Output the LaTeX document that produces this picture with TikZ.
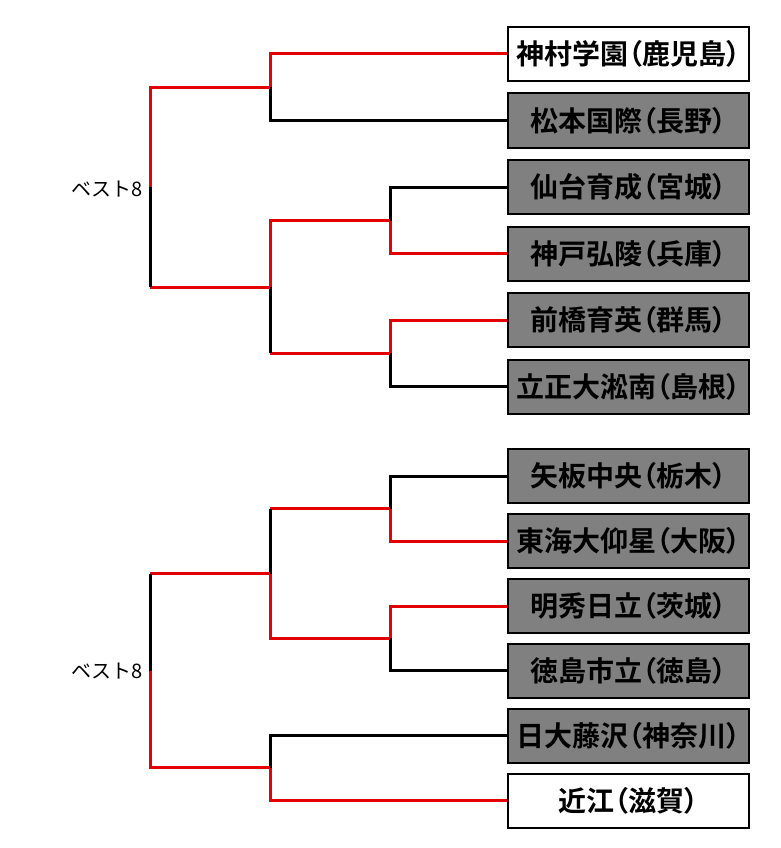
\documentclass[tikz,border=0pt]{standalone}
\usepackage{fontspec}
\newfontfamily\jp{Noto Sans CJK JP}
\newfontfamily\jpb{Noto Sans CJK JP Bold}[RawFeature=+palt]
\definecolor{winred}{RGB}{228,0,0}
\definecolor{losegray}{RGB}{128,128,128}
\tikzset{
  team/.style={draw=black, line width=2pt, minimum width=241pt, minimum height=54pt,
    inner sep=0pt, font=\jpb\fontsize{28pt}{28pt}\selectfont, text=black},
  winner/.style={team, fill=white},
  loser/.style={team, fill=losegray},
  win/.style={draw=winred, line width=3pt, line join=miter},
  lose/.style={draw=black, line width=3pt, line join=miter},
  lbl/.style={anchor=east, inner sep=0pt, font=\jp\fontsize{20pt}{20pt}\selectfont}
}
\begin{document}
\begin{tikzpicture}[x=1pt,y=-1pt]
\useasboundingbox[fill=white] (0,0) rectangle (781,848);
% junctions
\coordinate (a1) at (270,87.25);
\coordinate (a2) at (390,220.75);
\coordinate (a3) at (390,353.25);
\coordinate (b1) at (270,287);
\coordinate (c1) at (150,187);
\coordinate (d1) at (390,508.5);
\coordinate (d2) at (390,638.25);
\coordinate (e1) at (270,573.5);
\coordinate (e2) at (270,767.75);
\coordinate (f1) at (150,670.6);
% team box centres
\path (628.5,54) coordinate (p1) (628.5,120.5) coordinate (p2) (628.5,187) coordinate (p3)
      (628.5,253.5) coordinate (p4) (628.5,320) coordinate (p5) (628.5,386.5) coordinate (p6)
      (628.5,476) coordinate (p7) (628.5,541) coordinate (p8) (628.5,606) coordinate (p9)
      (628.5,670.5) coordinate (p10) (628.5,735.5) coordinate (p11) (628.5,800.5) coordinate (p12);
% connectors (drawn first, boxes on top)
\path[win]  (p1) -| (a1);
\path[lose] (p2) -| (a1);
\path[lose] (p3) -| (a2);
\path[win]  (p4) -| (a2);
\path[win]  (p5) -| (a3);
\path[lose] (p6) -| (a3);
\path[win]  (a2) -| (b1);
\path[win]  (a3) -- (a3 -| b1);
\path[lose] (a3 -| b1) -- (b1);
\path[win]  (a1) -| (c1);
\path[win]  (b1) -- (b1 -| c1);
\path[lose] (b1 -| c1) -- (c1);
\path[lose] (p7) -| (d1);
\path[win]  (p8) -| (d1);
\path[win]  (p9) -| (d2);
\path[lose] (p10) -| (d2);
\path[win]  (d1) -- (d1 -| e1);
\path[lose] (d1 -| e1) -- (e1);
\path[win]  (d2) -| (e1);
\path[lose] (p11) -| (e2);
\path[win]  (p12) -| (e2);
\path[win]  (e1) -- (e1 -| f1);
\path[lose] (e1 -| f1) -- (f1);
\path[win]  (e2) -| (f1);
% boxes
\node[winner] (t1) at (p1) {神村学園（鹿児島）};
\node[loser]  (t2) at (p2) {松本国際（長野）};
\node[loser]  (t3) at (p3) {仙台育成（宮城）};
\node[loser]  (t4) at (p4) {神戸弘陵（兵庫）};
\node[loser]  (t5) at (p5) {前橋育英（群馬）};
\node[loser]  (t6) at (p6) {立正大淞南（島根）};
\node[loser]  (t7) at (p7) {矢板中央（栃木）};
\node[loser]  (t8) at (p8) {東海大仰星（大阪）};
\node[loser]  (t9) at (p9) {明秀日立（茨城）};
\node[loser]  (t10) at (p10) {徳島市立（徳島）};
\node[loser]  (t11) at (p11) {日大藤沢（神奈川）};
\node[winner] (t12) at (p12) {近江（滋賀）};
% labels
\node[lbl] (l1) at (143,189.5) {ベスト8};
\node[lbl] (l2) at (143,671) {ベスト8};
\end{tikzpicture}
\end{document}
